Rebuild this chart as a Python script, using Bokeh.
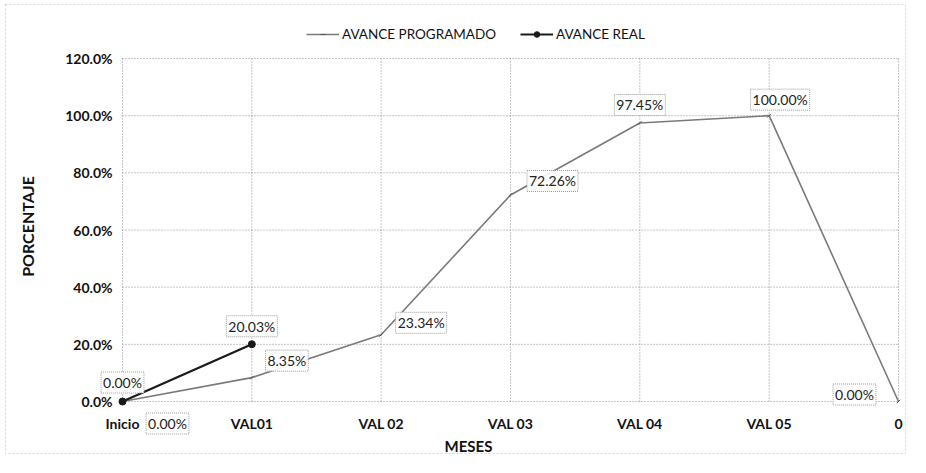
import math
from bokeh.plotting import figure
from bokeh.models import (ColumnDataSource, Range1d, Label, Legend, LegendItem, BoxAnnotation)
from bokeh.core.properties import value
from bokeh.embed import file_html
from bokeh.resources import INLINE

# ---- data ----
categories = ["Inicio", "VAL01", "VAL 02", "VAL 03", "VAL 04", "VAL 05", "0"]
programado = [0.0, 8.35, 23.34, 72.26, 97.45, 100.00, 0.0]
real = [0.0, 20.03]
y_ticks = [0.0, 0.2, 0.4, 0.6, 0.8, 1.0, 1.2]

# label offsets (screen px, +dy = up)
prog_dx = [45, 35, 40, 42, 0, 11, -44]
prog_dy = [-22, 17, 12, 14, 18, 16, 7]
real_dx = [0, 0]
real_dy = [19, 18]

FONT = "Lato"
W, H = 910, 457
# plot-area geometry in figure pixels
LEFT_PX, RIGHT_PX, TOP_PX, BOTTOM_PX = 122, 898, 58, 401
X_MAX = len(categories) - 1
Y_MAX = y_ticks[-1]
sx = (RIGHT_PX - LEFT_PX) / X_MAX
sy = (BOTTOM_PX - TOP_PX) / Y_MAX

xs = list(range(len(categories)))
src_p = ColumnDataSource(dict(
    x=xs, y=[v / 100 for v in programado],
    t=[f"{v:.2f}%" for v in programado], dx=prog_dx, dy=[-d for d in prog_dy]))
src_r = ColumnDataSource(dict(
    x=xs[:len(real)], y=[v / 100 for v in real],
    t=[f"{v:.2f}%" for v in real], dx=real_dx, dy=[-d for d in real_dy]))

p = figure(width=W, height=H, output_backend="svg", toolbar_location=None,
           x_range=Range1d(-LEFT_PX / sx, (W - LEFT_PX) / sx),
           y_range=Range1d(-(H - BOTTOM_PX) / sy, BOTTOM_PX / sy),
           min_border=0)
p.outline_line_color = None
p.xaxis.visible = False
p.yaxis.visible = False
p.xgrid.visible = False
p.ygrid.visible = False

# outer chart border
p.add_layout(BoxAnnotation(left=5, right=W - 5, top=4, bottom=H - 4,
                           left_units="screen", right_units="screen",
                           top_units="screen", bottom_units="screen",
                           fill_alpha=0, line_color="#777777", line_dash="2 2",
                           line_width=1))

# grid lines (from the tick arrays)
p.segment(x0=xs, y0=[0] * len(xs), x1=xs, y1=[Y_MAX] * len(xs),
          line_color="#8c8c8c", line_dash="1 2", line_width=1)
p.segment(x0=[0] * len(y_ticks), y0=y_ticks, x1=[X_MAX] * len(y_ticks), y1=y_ticks,
          line_color="#8c8c8c", line_dash="1 2", line_width=1)

# tick labels
p.text(x=[0] * len(y_ticks), y=y_ticks, text=[f"{t * 100:.1f}%" for t in y_ticks],
       x_offset=-10, text_align="right", text_baseline="middle",
       text_font=value(FONT), text_font_style="bold", text_font_size="14px",
       text_color="#111111")
p.text(x=xs, y=[0] * len(xs), text=categories, y_offset=22,
       text_align="center", text_baseline="middle",
       text_font=value(FONT), text_font_style="bold", text_font_size="14px",
       text_color="#111111")

# axis titles
p.add_layout(Label(x=27, y=H - 226, x_units="screen", y_units="screen", text="PORCENTAJE",
                   angle=math.pi / 2, text_align="center", text_baseline="middle",
                   text_font=FONT, text_font_style="bold", text_font_size="16px",
                   text_color="#111111"))
p.add_layout(Label(x=468, y=H - 445, x_units="screen", y_units="screen", text="MESES",
                   text_align="center", text_baseline="middle",
                   text_font=FONT, text_font_style="bold", text_font_size="15px",
                   text_color="#111111"))

# lines
lp = p.line("x", "y", source=src_p, line_color="#7a7a7a", line_width=1.6)
mp = p.scatter("x", "y", source=src_p, marker="dash", size=5, line_color="#555555",
               angle=0.8)
lr = p.line("x", "y", source=src_r, line_color="#1a1a1a", line_width=2.2)
mr = p.scatter("x", "y", source=src_r, marker="circle", size=7, fill_color="#1a1a1a",
               line_color="#1a1a1a")

# data labels
for src in (src_p, src_r):
    p.text(x="x", y="y", text="t", source=src, x_offset="dx", y_offset="dy",
           text_align="center", text_baseline="middle",
           text_font=value(FONT), text_font_size="14px", text_color="#222222",
           background_fill_color="white", background_fill_alpha=0.9,
           border_line_color="#9a9a9a", border_line_dash="1 1",
           border_line_width=1, padding=2)

legend = Legend(items=[LegendItem(label="AVANCE PROGRAMADO", renderers=[lp, mp]),
                       LegendItem(label="AVANCE REAL", renderers=[lr, mr])],
                orientation="horizontal", location=(306, H - 42),
                label_text_font=FONT, label_text_font_size="13.5px", label_text_color="#111111",
                glyph_width=33, glyph_height=14, spacing=24, label_standoff=3,
                padding=0, margin=0,
                border_line_color=None, background_fill_alpha=0)
p.add_layout(legend, "center")

open("out.html", "w").write(file_html(p, INLINE))
